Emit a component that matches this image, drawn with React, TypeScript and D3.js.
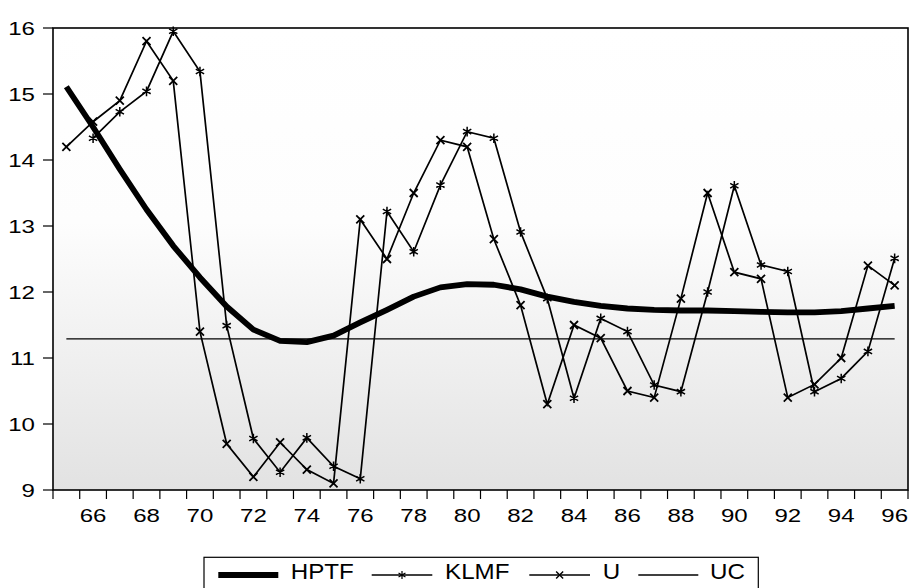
import React, { useEffect, useRef } from 'react';
import * as d3 from 'd3';

// 年份（1965-1996，两位数显示）
const years = [65, 66, 67, 68, 69, 70, 71, 72, 73, 74, 75, 76, 77, 78, 79, 80,
  81, 82, 83, 84, 85, 86, 87, 88, 89, 90, 91, 92, 93, 94, 95, 96];

// U：实际失业率（65-96）
const uValues = [14.2, 14.58, 14.9, 15.8, 15.2, 11.4, 9.7, 9.2, 9.72, 9.31, 9.1, 13.1,
  12.5, 13.5, 14.3, 14.2, 12.8, 11.8, 10.3, 11.5, 11.3, 10.5, 10.4, 11.9,
  13.5, 12.3, 12.2, 10.4, 10.6, 11.0, 12.4, 12.1];

// KLMF：从 66 年开始
const klmfYears = years.slice(1);
const klmfValues = [14.33, 14.73, 15.04, 15.95, 15.34, 11.49, 9.78, 9.27, 9.79, 9.36, 9.17,
  13.22, 12.61, 13.62, 14.43, 14.33, 12.91, 11.9, 10.39, 11.6, 11.4, 10.59,
  10.49, 12.0, 13.61, 12.41, 12.31, 10.49, 10.69, 11.1, 12.51];

// HPTF：HP 滤波趋势
const hptfValues = [15.11, 14.5, 13.86, 13.25, 12.7, 12.22, 11.78, 11.43, 11.26, 11.24,
  11.34, 11.54, 11.73, 11.93, 12.07, 12.12, 12.11, 12.04, 11.93, 11.85, 11.79,
  11.75, 11.73, 11.72, 11.72, 11.71, 11.7, 11.69, 11.69, 11.71, 11.75, 11.79];

// UC：常数
const ucValue = 11.29;

const yTicks = [9, 10, 11, 12, 13, 14, 15, 16];
const xLabelYears = [66, 68, 70, 72, 74, 76, 78, 80, 82, 84, 86, 88, 90, 92, 94, 96];

const FONT = 'Arial, "Liberation Sans", sans-serif';

const App: React.FC = () => {
  const svgRef = useRef<SVGSVGElement>(null);

  useEffect(() => {
    document.body.style.margin = '0';
    if (!svgRef.current) return;
    const svg = d3.select(svgRef.current);
    svg.selectAll('*').remove();

    const plot = { left: 53, right: 908, top: 28, bottom: 490 };

    const x = d3.scaleLinear().domain([64.5, 96.5]).range([plot.left, plot.right]);
    const y = d3.scaleLinear().domain([9, 16]).range([plot.bottom, plot.top]);

    // 背景渐变
    const grad = svg.append('defs').append('linearGradient')
      .attr('id', 'bg').attr('x1', 0).attr('y1', 0).attr('x2', 0).attr('y2', 1);
    grad.append('stop').attr('offset', '0').attr('stop-color', '#ffffff');
    grad.append('stop').attr('offset', '0.42').attr('stop-color', '#fdfdfd');
    grad.append('stop').attr('offset', '1').attr('stop-color', '#e2e2e2');

    svg.append('rect')
      .attr('x', plot.left).attr('y', plot.top)
      .attr('width', plot.right - plot.left).attr('height', plot.bottom - plot.top)
      .attr('fill', 'url(#bg)');

    // UC 水平线
    svg.append('line')
      .attr('x1', x(years[0])).attr('x2', x(years[years.length - 1]))
      .attr('y1', y(ucValue)).attr('y2', y(ucValue))
      .attr('stroke', '#000').attr('stroke-width', 1.4);

    const line = d3.line<[number, number]>().x(d => x(d[0])).y(d => y(d[1]));

    const uPts = years.map((yr, i) => [yr, uValues[i]] as [number, number]);
    const kPts = klmfYears.map((yr, i) => [yr, klmfValues[i]] as [number, number]);
    const hPts = years.map((yr, i) => [yr, hptfValues[i]] as [number, number]);

    svg.append('path').attr('d', line(kPts))
      .attr('fill', 'none').attr('stroke', '#000').attr('stroke-width', 1.7);
    svg.append('path').attr('d', line(uPts))
      .attr('fill', 'none').attr('stroke', '#000').attr('stroke-width', 1.7);

    // 标记：星号和叉号
    const star = (cx: number, cy: number, r: number) => {
      const a = r * Math.cos(Math.PI / 6);
      const b = r * Math.sin(Math.PI / 6);
      return `M${cx},${cy - r}L${cx},${cy + r}M${cx - a},${cy - b}L${cx + a},${cy + b}M${cx - a},${cy + b}L${cx + a},${cy - b}`;
    };
    const cross = (cx: number, cy: number, r: number) =>
      `M${cx - r},${cy - r}L${cx + r},${cy + r}M${cx - r},${cy + r}L${cx + r},${cy - r}`;

    svg.append('path')
      .attr('d', kPts.map(p => star(x(p[0]), y(p[1]), 4.8)).join(''))
      .attr('stroke', '#000').attr('stroke-width', 1.5).attr('fill', 'none');
    svg.append('path')
      .attr('d', uPts.map(p => cross(x(p[0]), y(p[1]), 4)).join(''))
      .attr('stroke', '#000').attr('stroke-width', 1.8).attr('fill', 'none');

    // HPTF 粗线
    svg.append('path').attr('d', line(hPts))
      .attr('fill', 'none').attr('stroke', '#000').attr('stroke-width', 5.8)
      .attr('stroke-linejoin', 'round');

    // 边框
    svg.append('rect')
      .attr('x', plot.left).attr('y', plot.top)
      .attr('width', plot.right - plot.left).attr('height', plot.bottom - plot.top)
      .attr('fill', 'none').attr('stroke', '#000').attr('stroke-width', 1.6);

    // Y 轴刻度
    yTicks.forEach(t => {
      svg.append('line')
        .attr('x1', plot.left - 10).attr('x2', plot.left)
        .attr('y1', y(t)).attr('y2', y(t))
        .attr('stroke', '#000').attr('stroke-width', 1.2);
      svg.append('text')
        .attr('transform', `translate(35,${y(t) + 6.7}) scale(1.28,1)`)
        .attr('text-anchor', 'end')
        .attr('font-family', FONT).attr('font-size', 18.8)
        .text(String(t));
    });

    // X 轴刻度（年份边界）
    const tickPos = d3.range(years.length + 1).map(i => years[0] - 0.5 + i);
    tickPos.forEach(t => {
      svg.append('line')
        .attr('x1', x(t)).attr('x2', x(t))
        .attr('y1', plot.bottom).attr('y2', plot.bottom + 9)
        .attr('stroke', '#000').attr('stroke-width', 1.2);
    });
    xLabelYears.forEach(yr => {
      svg.append('text')
        .attr('transform', `translate(${x(yr)},521.7) scale(1.28,1)`)
        .attr('text-anchor', 'middle')
        .attr('font-family', FONT).attr('font-size', 18.8)
        .text(String(yr));
    });

    // 图例
    const lg = svg.append('g');
    lg.append('rect')
      .attr('x', 204).attr('y', 557.3).attr('width', 554.3).attr('height', 40)
      .attr('fill', '#fff').attr('stroke', '#000').attr('stroke-width', 1.2);
    const ly = 575;
    const items = [
      { name: 'HPTF', x0: 218.3, x1: 278.3, tx: 290.7, width: 5.8, marker: '' },
      { name: 'KLMF', x0: 371.7, x1: 432.3, tx: 445, width: 1.4, marker: 'star' },
      { name: 'U', x0: 529.3, x1: 590, tx: 602.7, width: 1.4, marker: 'cross' },
      { name: 'UC', x0: 638.3, x1: 698.3, tx: 710, width: 1.4, marker: '' },
    ];
    items.forEach(it => {
      lg.append('line')
        .attr('x1', it.x0).attr('x2', it.x1).attr('y1', ly).attr('y2', ly)
        .attr('stroke', '#000').attr('stroke-width', it.width);
      const mx = (it.x0 + it.x1) / 2;
      if (it.marker === 'star') {
        lg.append('path').attr('d', star(mx, ly, 4)).attr('stroke', '#000').attr('stroke-width', 1.2);
      } else if (it.marker === 'cross') {
        lg.append('path').attr('d', cross(mx, ly, 3.5)).attr('stroke', '#000').attr('stroke-width', 1.4);
      }
      lg.append('text')
        .attr('transform', `translate(${it.tx},579.3) scale(1.13,1)`)
        .attr('font-family', FONT).attr('font-size', 21.4)
        .text(it.name);
    });
  }, []);

  return (
    <svg ref={svgRef} width={910} height={588} style={{ display: 'block', background: '#fff' }} />
  );
};

export default App;
